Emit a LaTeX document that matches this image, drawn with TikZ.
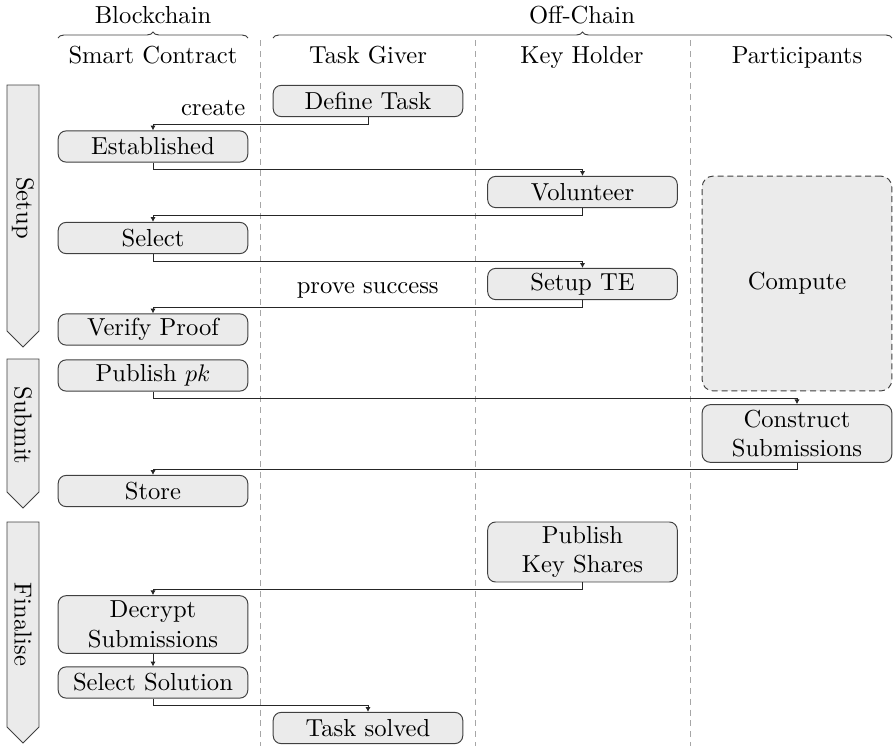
\documentclass[tikz,border=0pt]{standalone}
\usepackage{amssymb}
\usepackage{tikz}
\usepackage{color}
\usetikzlibrary{arrows.meta,decorations.pathreplacing}

\definecolor{boxfill}{gray}{0.92}
\definecolor{boxline}{gray}{0.25}
\definecolor{laneline}{gray}{0.65}

\begin{document}
\begin{tikzpicture}[x=0.4167pt,y=-0.4167pt,font=\fontsize{10.25}{12.3}\selectfont]
        \tikzstyle{step node}=[draw=boxline,fill=boxfill,rounded corners=3.3pt,minimum width=79pt,minimum height=13pt,inner sep=1pt,align=center]
        \tikzstyle{compute node}=[step node,dashed,dash pattern=on 2.5pt off 1.6pt,rounded corners=4.5pt,minimum height=89.5pt]
        \tikzstyle{phase arrow}=[draw=boxline,fill=boxfill]
        \tikzstyle{flow}=[-{Latex[length=2pt,width=2.2pt]},draw=black!85]
        \tikzstyle{lane}=[draw=laneline,dashed,dash pattern=on 2.5pt off 2pt]
        \tikzstyle{brace}=[decorate,decoration={brace,amplitude=2.5pt},draw=boxline]
        \tikzstyle{head}=[anchor=base]
        \useasboundingbox (0,0) rectangle (895,746);

        % headers
        \node[head] (bc) at (153,23) {Blockchain};
        \node[head] (oc) at (582,23) {Off-Chain};
        \draw[brace] (58,38) -- (248,38);
        \draw[brace] (273,38) -- (892,38);
        \node[head] (sc) at (153,63) {Smart Contract};
        \node[head] (tg) at (368,63) {Task Giver};
        \node[head] (kh) at (582,63) {Key Holder};
        \node[head] (pa) at (797,63) {Participants};

        \foreach \x in {260,475,690}
            \draw[lane] (\x,40) -- (\x,746);

        % phases
        \foreach \name/\top/\bot/\txt in {setup/85/347/Setup,submit/359/508/Submit,final/522/743/Finalise} {
            \draw[phase arrow] (7,\top) -- (39,\top) -- (39,\bot-16) -- (23,\bot) -- (7,\bot-16) -- cycle;
            \node[rotate=-90] (\name) at (23,{(\top+\bot-16)/2}) {\txt};
        }

        % smart contract
        \node[step node] (est) at (153,146.5) {Established};
        \node[step node] (sel) at (153,238) {Select};
        \node[step node] (ver) at (153,329.5) {Verify Proof};
        \node[step node] (pub) at (153,375.5) {Publish $pk$};
        \node[step node] (sto) at (153,491) {Store};
        \node[step node,minimum height=24pt] (dec) at (153,624.5) {Decrypt\\Submissions};
        \node[step node] (sol) at (153,682.5) {Select Solution};

        % task giver
        \node[step node] (def) at (368,101) {Define Task};
        \node[step node] (solved) at (368,728) {Task solved};

        % key holder
        \node[step node] (vol) at (582.5,192) {Volunteer};
        \node[step node] (ste) at (582.5,284) {Setup TE};
        \node[step node,minimum height=25pt] (pks) at (582.5,552) {Publish\\Key Shares};

        % participants
        \node[compute node] (comp) at (797,283.5) {Compute};
        \node[step node,minimum height=24pt] (con) at (797,433.5) {Construct\\Submissions};

        \draw[flow] (def.south) -- ++(0,7) -| (est.north) node[pos=0.36,above] {create};
        \draw[flow] (est.south) -- ++(0,7) -| (vol.north);
        \draw[flow] (vol.south) -- ++(0,7) -| (sel.north);
        \draw[flow] (sel.south) -- ++(0,7) -| (ste.north);
        \draw[flow] (ste.south) -- ++(0,7) -| (ver.north) node[pos=0.25,above] {prove success};
        \draw[flow] (pub.south) -- ++(0,7) -| (con.north);
        \draw[flow] (con.south) -- ++(0,7) -| (sto.north);
        \draw[flow] (pks.south) -- ++(0,7) -| (dec.north);
        \draw[flow] (dec) -- (sol);
        \draw[flow] (sol.south) -- ++(0,7) -| (solved.north);
    \end{tikzpicture}
\end{document}
